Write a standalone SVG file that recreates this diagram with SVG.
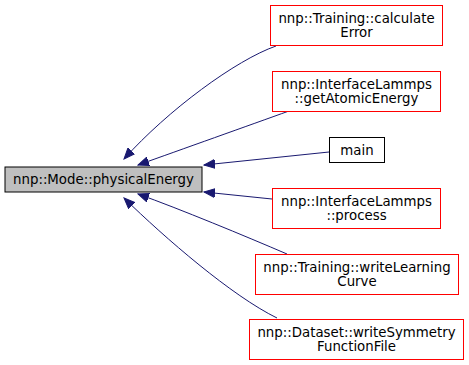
<svg xmlns="http://www.w3.org/2000/svg" width="469" height="365" viewBox="0 0 469 365">
  <style>
    text { font-family: "DejaVu Sans", "Liberation Sans", sans-serif; font-size: 13.33px; text-anchor: middle; fill: #000; }
    .node rect { fill: #fff; stroke: #ff0000; stroke-width: 1; }
    .node.plain rect { stroke: #000; }
    .node.current rect { fill: #bfbfbf; stroke: #000; }
    .edge { fill: none; stroke: #191970; stroke-width: 1; marker-end: url(#arrow); }
  </style>
  <defs>
    <marker id="arrow" markerUnits="userSpaceOnUse" markerWidth="12" markerHeight="10" viewBox="0 0 12 10" refX="11" refY="5" orient="auto">
      <polygon points="0,0.5 11,5 0,9.5" fill="#191970" stroke="#191970" stroke-width="1"/>
    </marker>
  </defs>

  <g id="edges">
    <path class="edge" d="M276,46 C236,60 168,110 124,159"/>
    <path class="edge" d="M289,111 C250,125 180,150 138,165"/>
    <path class="edge" d="M329,152 L204,165"/>
    <path class="edge" d="M272,199 L204,192"/>
    <path class="edge" d="M287,254 C245,236 180,209 138,194"/>
    <path class="edge" d="M277,318 C232,296 165,238 124,198"/>
  </g>

  <g id="node-physicalEnergy" class="node current">
    <rect x="5" y="167" width="197" height="25" fill="#bfbfbf" stroke="#000"/>
    <text x="103.5" y="184">nnp::Mode::physicalEnergy</text>
  </g>

  <g id="node-calculateError" class="node">
    <rect x="270.5" y="5.5" width="172" height="40" stroke="#ff0000"/>
    <text x="356.5" y="22.5">nnp::Training::calculate</text>
    <text x="356.5" y="36.5">Error</text>
  </g>

  <g id="node-getAtomicEnergy" class="node">
    <rect x="272.5" y="71.5" width="168" height="40" stroke="#ff0000"/>
    <text x="356.5" y="88.5">nnp::InterfaceLammps</text>
    <text x="356.5" y="102.5">::getAtomicEnergy</text>
  </g>

  <g id="node-main" class="node plain">
    <rect x="329.5" y="137.5" width="55" height="25" stroke="#000"/>
    <text x="357" y="154.5">main</text>
  </g>

  <g id="node-process" class="node">
    <rect x="272.5" y="188.5" width="168" height="40" stroke="#ff0000"/>
    <text x="356.5" y="205.5">nnp::InterfaceLammps</text>
    <text x="356.5" y="219.5">::process</text>
  </g>

  <g id="node-writeLearningCurve" class="node">
    <rect x="255.5" y="254.5" width="203" height="40" stroke="#ff0000"/>
    <text x="357" y="271.5">nnp::Training::writeLearning</text>
    <text x="357" y="285.5">Curve</text>
  </g>

  <g id="node-writeSymmetryFunctionFile" class="node">
    <rect x="249.5" y="319.5" width="214" height="40" stroke="#ff0000"/>
    <text x="356.5" y="336.5">nnp::Dataset::writeSymmetry</text>
    <text x="356.5" y="350.5">FunctionFile</text>
  </g>
</svg>
